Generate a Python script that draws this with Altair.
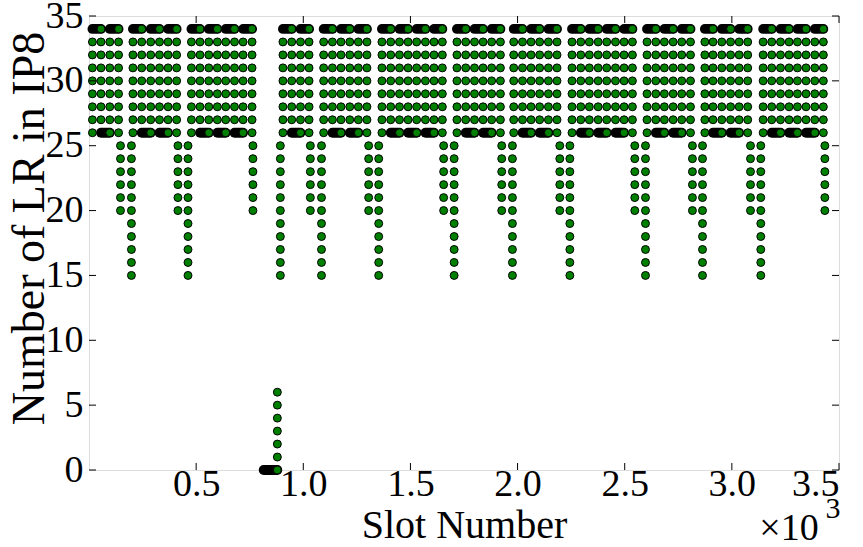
import altair as alt
import pandas as pd

# ---------------- data ----------------
# slot numbers of the columns in the dense block (LR 26..34), one list per train
train_slots = [
    [16, 56, 97, 138],
    [205, 246, 288, 329, 369, 409],
    [478, 518, 559, 599, 638, 679, 719, 761],
    [905, 946, 987, 1027],
    [1095, 1136, 1176, 1217, 1257, 1297],
    [1367, 1408, 1449, 1489, 1529, 1570, 1610, 1649],
    [1717, 1758, 1799, 1839, 1879, 1920],
    [1982, 2023, 2063, 2103, 2144, 2184],
    [2254, 2295, 2335, 2376, 2416, 2457, 2497, 2536],
    [2604, 2645, 2685, 2726, 2766, 2807],
    [2874, 2912, 2953, 2994, 3034, 3074],
    [3146, 3186, 3227, 3267, 3306, 3346, 3387, 3427],
]
block_lr = [26, 27, 28, 29, 30, 31, 32, 33, 34]

# columns hanging below the block: slot, lowest LR, highest LR
tail_slots = [147, 198, 415, 462, 765, 893, 1033, 1085, 1305, 1352, 1655, 1704,
              1926, 1976, 2197, 2244, 2547, 2597, 2816, 2863, 3087, 3135, 3434]
tail_low = [20, 15, 20, 15, 20, 15, 20, 15, 20, 15, 20, 15,
            20, 15, 20, 15, 20, 15, 20, 15, 20, 15, 20]
tail_high = [25, 25, 25, 25, 25, 25, 25, 25, 25, 25, 25, 25,
             25, 25, 25, 25, 25, 25, 25, 25, 25, 25, 25]

# the low column near slot 880 and the run of zeros before it
zero_slot = 879
zero_lr = [0, 1, 2, 3, 4, 5, 6]
zero_run = [815, 879]

x_ticks = [500, 1000, 1500, 2000, 2500, 3000, 3500]
y_ticks = [0, 5, 10, 15, 20, 25, 30, 35]

# ---------------- tables ----------------
dots = []
smears = []
for cols in train_slots:
    for lr in block_lr:
        if lr == 34:
            for k in range(0, len(cols) - 1, 2):
                smears.append({"x0": cols[k], "x1": cols[k + 1], "lr": lr})
                dots.append({"slot": cols[k + 1], "lr": lr})
        elif lr == 26:
            dots.append({"slot": cols[0], "lr": lr})
            for k in range(1, len(cols) - 1, 2):
                smears.append({"x0": cols[k], "x1": cols[k + 1], "lr": lr})
                dots.append({"slot": cols[k + 1], "lr": lr})
            dots.append({"slot": cols[-1], "lr": lr})
        else:
            for c in cols:
                dots.append({"slot": c, "lr": lr})
for s, lo, hi in zip(tail_slots, tail_low, tail_high):
    for lr in range(lo, hi + 1):
        dots.append({"slot": s, "lr": lr})
smears.append({"x0": zero_run[0], "x1": zero_run[1], "lr": 0})
for lr in zero_lr:
    dots.append({"slot": zero_slot, "lr": lr})

dots_df = pd.DataFrame(dots)
smear_df = pd.DataFrame(smears)

W, H = 750, 454
FONT = "Liberation Serif"

xscale = alt.Scale(domain=[0, 3500], nice=False, zero=False)
yscale = alt.Scale(domain=[0, 35], nice=False)
xaxis = alt.Axis(values=x_ticks, labelExpr="format(datum.value/1000, '.1f')",
                 ticks=False, domain=False, grid=False, labelFont=FONT,
                 labelFontSize=38, labelColor="black", labelPadding=-5,
                 title="Slot Number", titleFont=FONT, titleFontSize=40,
                 titleFontWeight="normal", titleColor="black",
                 titleX=375, titleY=55, titleBaseline="middle")
yaxis = alt.Axis(values=y_ticks, ticks=False, domain=False, grid=False,
                 labelFont=FONT, labelFontSize=38, labelColor="black",
                 labelPadding=6, title="Number of LR in IP8", titleFont=FONT,
                 titleFontSize=46, titleFontWeight="normal", titleColor="black",
                 titleX=-60, titleY=212, titleBaseline="middle", titleAngle=-90)


def X(f):
    return alt.X(f, type="quantitative", scale=xscale, axis=xaxis)


def Y(f):
    return alt.Y(f, type="quantitative", scale=yscale, axis=yaxis)


smear_layer = alt.Chart(smear_df).mark_rule(
    color="black", strokeWidth=9.8, strokeCap="round"
).encode(x=X("x0"), x2="x1", y=Y("lr"))

dot_layer = alt.Chart(dots_df).mark_circle(
    size=63, fill="#008000", stroke="black", strokeWidth=1, opacity=1
).encode(x=X("slot"), y=Y("lr"))

xt = pd.DataFrame({"slot": x_ticks})
yt = pd.DataFrame({"lr": y_ticks})
tick_bottom = alt.Chart(xt).mark_rule(color="black", strokeWidth=1).encode(
    x=X("slot"), y=alt.value(H), y2=alt.value(H - 7))
tick_top = alt.Chart(xt).mark_rule(color="black", strokeWidth=1).encode(
    x=X("slot"), y=alt.value(0), y2=alt.value(7))
tick_left = alt.Chart(yt).mark_rule(color="black", strokeWidth=1).encode(
    y=Y("lr"), x=alt.value(0), x2=alt.value(7))
tick_right = alt.Chart(yt).mark_rule(color="black", strokeWidth=1).encode(
    y=Y("lr"), x=alt.value(W), x2=alt.value(W - 7))

mult = alt.Chart(pd.DataFrame({"t": ["×10"]})).mark_text(
    font=FONT, fontSize=38, color="black", align="center", baseline="middle"
).encode(text="t:N", x=alt.value(700), y=alt.value(513))
expo = alt.Chart(pd.DataFrame({"t": ["3"]})).mark_text(
    font=FONT, fontSize=30, color="black", align="center", baseline="middle"
).encode(text="t:N", x=alt.value(744), y=alt.value(493))

chart = alt.layer(
    smear_layer, dot_layer, tick_bottom, tick_top, tick_left, tick_right, mult, expo
).properties(
    width=W, height=H, autosize="none",
    padding={"left": 89, "top": 16, "right": 24, "bottom": 77},
).configure_view(stroke="black", strokeWidth=1.2).configure(background="white")

chart.save("out.html", embed_options={"renderer": "svg", "actions": False})
